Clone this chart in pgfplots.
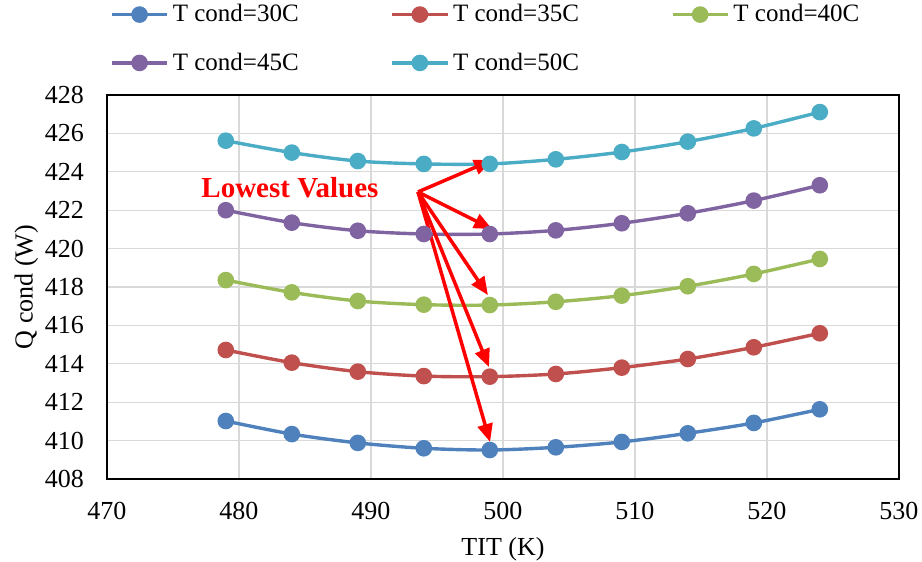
\documentclass[border=0pt]{standalone}
\usepackage{fontspec}
\setmainfont{Liberation Serif}
\usepackage{pgfplots}
\pgfplotsset{compat=1.18}
\usepackage{pgfplotstable}
\usetikzlibrary{arrows.meta}

\definecolor{cBlue}{HTML}{4F81BD}
\definecolor{cRed}{HTML}{C0504D}
\definecolor{cGreen}{HTML}{9BBB59}
\definecolor{cPurple}{HTML}{8064A2}
\definecolor{cCyan}{HTML}{4BACC6}
\definecolor{gridgray}{HTML}{D9D9D9}

% Condenser heat rejection vs turbine inlet temperature
\pgfplotstableread{
TIT   T30     T35     T40     T45     T50
479   411.02  414.72  418.36  422.00  425.62
484   410.34  414.06  417.72  421.35  425.00
489   409.88  413.59  417.27  420.93  424.56
494   409.60  413.36  417.08  420.76  424.41
499   409.51  413.33  417.06  420.76  424.41
504   409.65  413.47  417.23  420.95  424.65
509   409.93  413.80  417.55  421.32  425.03
514   410.38  414.25  418.04  421.84  425.57
519   410.92  414.86  418.68  422.50  426.26
524   411.63  415.59  419.46  423.30  427.11
}\datatable

\begin{document}
\begin{tikzpicture}
\begin{axis}[
  scale only axis,
  width=396pt, height=192pt,
  xmin=470, xmax=530, ymin=408, ymax=428,
  xtick={470,480,...,530},
  ytick={408,410,...,428},
  grid=major,
  major grid style={gridgray, line width=0.65pt},
  major tick length=0pt,
  axis line style={black, line width=1pt},
  tick label style={font=\fontsize{13}{15}\selectfont},
  /pgf/number format/assume math mode=true,
  /pgf/number format/1000 sep={},
  xticklabel style={yshift=-8pt},
  yticklabel style={xshift=-8pt},
  xlabel={TIT (K)},
  ylabel={Q cond (W)},
  label style={font=\fontsize{13}{15}\selectfont},
  xlabel style={yshift=-2pt},
  ylabel style={yshift=-3.5pt},
  every axis plot/.append style={line width=1.7pt, smooth, tension=0.5,
    mark=*, mark size=3.3pt, mark options={solid}},
  legend columns=3,
  legend cell align=left,
  legend image code/.code={%
    \draw[mark repeat=2, mark phase=2] plot coordinates {(0pt,0pt) (13.75pt,0pt) (27.5pt,0pt)};},
  legend style={at={(0,1)}, anchor=north west, xshift=1.5pt, yshift=47.5pt,
    draw=none, fill=none, inner sep=0pt, row sep=10pt,
    font=\fontsize{12.5}{14}\selectfont,
    /tikz/every even column/.append style={column sep=44pt}},
]
\addplot[color=cBlue]   table[x=TIT, y=T30] {\datatable};
\addlegendentry{T cond=30C}
\addplot[color=cRed]    table[x=TIT, y=T35] {\datatable};
\addlegendentry{T cond=35C}
\addplot[color=cGreen]  table[x=TIT, y=T40] {\datatable};
\addlegendentry{T cond=40C}
\addplot[color=cPurple] table[x=TIT, y=T45] {\datatable};
\addlegendentry{T cond=45C}
\addplot[color=cCyan]   table[x=TIT, y=T50] {\datatable};
\addlegendentry{T cond=50C}

% annotation pointing at the minimum of each curve
\node[anchor=base, text=red, font=\fontsize{14.5}{16}\selectfont\bfseries]
  at (axis cs:483.86,422.67) {Lowest Values};
\begin{scope}[red, line width=1.75pt, -{Triangle[length=9pt,width=7.5pt]}]
  \draw (axis cs:493.56,422.95) -- (axis cs:499.17,424.61);
  \draw (axis cs:493.56,422.95) -- (axis cs:499.17,421.02);
  \draw (axis cs:493.56,422.95) -- (axis cs:498.86,417.58);
  \draw (axis cs:493.56,422.95) -- (axis cs:498.94,413.83);
  \draw (axis cs:493.56,422.95) -- (axis cs:499.02,409.93);
\end{scope}
\end{axis}
\pgfresetboundingbox
\path[use as bounding box] (-53.5pt,-41.5pt) rectangle (407.5pt,239.5pt);
\end{tikzpicture}
\end{document}
